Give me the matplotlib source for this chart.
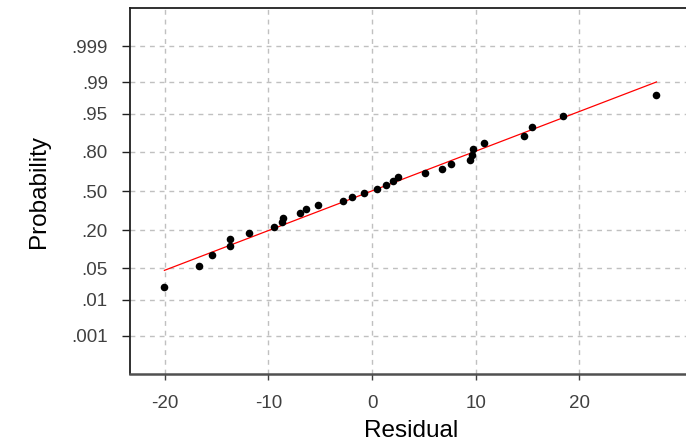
import numpy as np
import matplotlib
matplotlib.use("Agg")
import matplotlib.pyplot as plt
from statistics import NormalDist

# residuals (sorted)
residuals = [-20.03, -16.72, -15.46, -13.68, -13.68, -11.91, -9.50, -8.72, -8.60,
             -6.99, -6.34, -5.22, -2.80, -1.89, -0.77, 0.48, 1.39, 2.03, 2.51,
             5.09, 6.71, 7.60, 9.47, 9.60, 9.73, 10.76, 14.66, 15.43, 18.45, 27.44]
prob_ticks = [0.001, 0.01, 0.05, 0.20, 0.50, 0.80, 0.95, 0.99, 0.999]
prob_labels = [".001", ".01", ".05", ".20", ".50", ".80", ".95", ".99", ".999"]
x_ticks = [-20, -10, 0, 10, 20]

nd = NormalDist()
x = np.sort(np.array(residuals))
n = len(x)
# Blom plotting positions
pp = [(i - 0.375) / (n + 0.25) for i in range(1, n + 1)]
z = np.array([nd.inv_cdf(p) for p in pp])

# fitted line: least squares of residual on normal score
slope, icpt = np.polyfit(z, x, 1)
xl = np.array([x.min(), x.max()])
zl = (xl - icpt) / slope

plt.rcParams["font.family"] = ["Liberation Sans", "DejaVu Sans"]
fig = plt.figure(figsize=(6.86, 4.44), dpi=100)
ax = fig.add_axes([130 / 686, 1 - 373.7 / 444, 1 - 130 / 686 + 0.01, (373.7 - 8.3) / 444])

ax.plot(xl, zl, color="red", lw=0.9, zorder=3)
ax.scatter(x, z, s=30, color="black", zorder=4, linewidths=0)

ax.set_xlim(-23.35, 30.29 + 0.01 * 686 / 10.365)
ax.set_ylim(-3.9, 3.9)
ax.set_xticks(x_ticks)
ax.set_xticklabels([str(t) for t in x_ticks])
ax.set_yticks([nd.inv_cdf(p) for p in prob_ticks])
ax.set_yticklabels(prob_labels)

ax.grid(True, color="#c0c0c0", linestyle=(0, (3.5, 3.5)), lw=1.0)
ax.set_axisbelow(True)

ax.spines["right"].set_visible(False)
ax.spines["top"].set_color("#202020")
ax.spines["top"].set_linewidth(1.3)
ax.spines["left"].set_color("#202020")
ax.spines["left"].set_linewidth(1.3)
ax.spines["bottom"].set_color("#505050")
ax.spines["bottom"].set_linewidth(1.8)

ax.tick_params(axis="y", length=6, width=1, color="#202020", pad=10,
               labelsize=13.5, labelcolor="#404040")
ax.tick_params(axis="x", length=4, width=1, color="#404040", pad=11,
               labelsize=13.5, labelcolor="#404040")

ax.set_xlabel("Residual", fontsize=17.5, labelpad=6)
ax.set_ylabel("Probability", fontsize=17.5, labelpad=15)

fig.savefig("out.png", dpi=100)
